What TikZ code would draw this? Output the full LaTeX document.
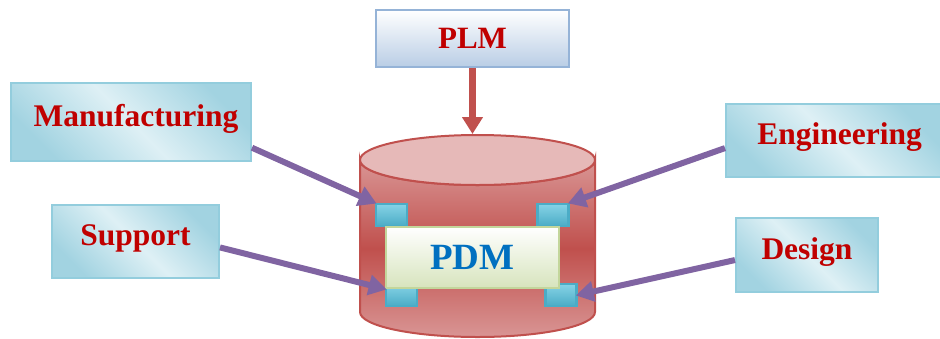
\documentclass[tikz,border=0pt]{standalone}
\usepackage{fontspec}
\setmainfont{Liberation Serif}
\usetikzlibrary{arrows.meta}

\definecolor{labelred}{HTML}{C00000}
\definecolor{pdmblue}{HTML}{0070C0}
\definecolor{boxedge}{HTML}{93CDDD}
\definecolor{boxdark}{HTML}{A2D3E1}
\definecolor{boxlight}{HTML}{DEF0F5}
\definecolor{plmedge}{HTML}{95B3D7}
\definecolor{plmfill}{HTML}{B9CDE5}
\definecolor{pdmedge}{HTML}{C3D69B}
\definecolor{pdmfill}{HTML}{D7E4BD}
\definecolor{dbred}{HTML}{C0504D}
\definecolor{dbtop}{HTML}{E6B9B8}
\definecolor{dblight}{HTML}{D99594}
\definecolor{portedge}{HTML}{4BACC6}
\definecolor{portlight}{HTML}{86D3E6}
\definecolor{linkpurple}{HTML}{8064A2}

\tikzset{
  sidebox/.style={draw=boxedge, line width=2pt, inner sep=0pt,
    left color=boxdark, right color=boxdark, middle color=boxlight, shading angle=-45,
    text=labelred, font=\fontsize{31.5}{36}\selectfont\bfseries,
    text height=20pt, text depth=12pt},
  port/.style={draw=portedge, line width=2.5pt, inner sep=0pt,
    minimum width=31pt, minimum height=22pt,
    top color=portlight, bottom color=portedge},
  link/.style={linkpurple, line width=6pt,
    -{Triangle[width=20pt,length=18pt]}, shorten >=-2pt},
}

\begin{document}
\begin{tikzpicture}[x=1pt,y=1pt,yscale=-1,xscale=1]

\useasboundingbox (0,0) rectangle (940,338);

% database cylinder
\draw[dbred, line width=2pt, top color=dblight, bottom color=dblight, middle color=dbred]
  (360,160) -- (360,312) arc[start angle=180, end angle=0, x radius=117.5, y radius=25]
  -- (595,160) arc[start angle=0, end angle=180, x radius=117.5, y radius=25] -- cycle;
\draw[dbred, line width=2pt, fill=dbtop] (477.5,160) ellipse[x radius=117.5, y radius=25];
\coordinate (dbin) at (472.5,134);

% ports
\node[port] (pTL) at (391.5,215) {};
\node[port] (pTR) at (553,215) {};
\node[port] (pBL) at (401.5,295) {};
\node[port] (pBR) at (561,295) {};

% PDM
\node[draw=pdmedge, line width=2pt, inner sep=0pt, minimum width=173pt, minimum height=61pt,
  top color=white, bottom color=pdmfill, text=pdmblue,
  font=\fontsize{37}{42}\selectfont\bfseries] (pdm) at (472.5,257.5) {PDM};

% PLM
\node[draw=plmedge, line width=2pt, inner sep=0pt, minimum width=193pt, minimum height=57pt,
  top color=white, bottom color=plmfill, text=labelred,
  font=\fontsize{31}{36}\selectfont\bfseries] (plm) at (472.5,38.5) {PLM};

% side boxes
\node[sidebox, minimum width=240pt, minimum height=78pt] (mfg) at (131,122) {\hspace*{10pt}Manufacturing};
\node[sidebox, minimum width=167pt, minimum height=73pt] (sup) at (135.5,241.5) {Support};
\node[sidebox, minimum width=215pt, minimum height=73pt] (eng) at (833.5,140.5) {\hspace*{12pt}Engineering};
\node[sidebox, minimum width=142pt, minimum height=74pt] (des) at (807,255) {Design};

% links
\draw[dbred, line width=7pt, -{Triangle[width=20pt,length=17pt]}] (plm.south) -- (dbin);
\draw[link] (mfg.-12) -- (pTL.north west);
\draw[link] (sup.-4) -- (pBL.160);
\draw[link] (eng.184) -- (pTR.north east);
\draw[link] (des.184) -- (pBR.east);

\end{tikzpicture}
\end{document}
